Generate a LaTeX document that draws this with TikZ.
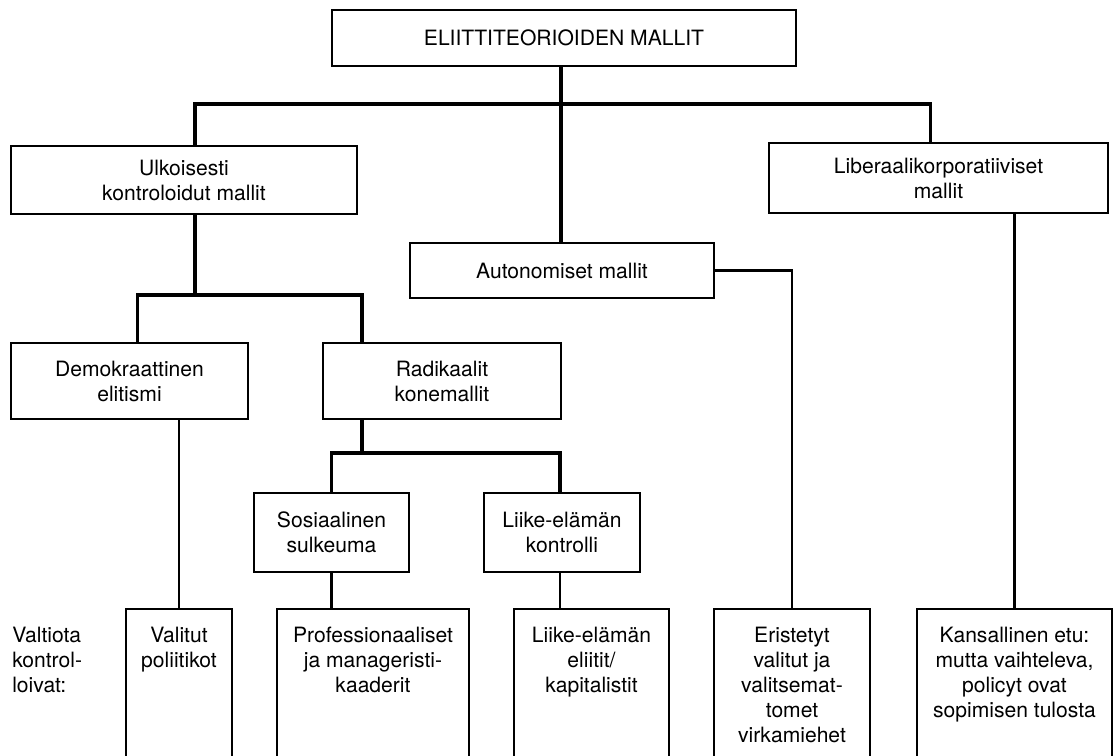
\documentclass[tikz,border=0pt]{standalone}
\usepackage{fontspec}
\setmainfont{TeX Gyre Heros}
\tikzset{modelbox/.style={draw, line width=1.5pt, align=center, inner sep=2pt},
 openbox/.style={anchor=north, align=center, inner xsep=0pt, inner ysep=12.5pt},
 tree/.style={line width=2.2pt},
 link/.style={line width=1.5pt}}

\begin{document}
\begin{tikzpicture}[x=0.025cm, y=-0.025cm, font=\fontsize{15}{17.8}\selectfont]
  \useasboundingbox (0,0) rectangle (1119,756);
  \coordinate (bot) at (0,756);
  % upper levels
  \node[modelbox, minimum width=11.6cm, minimum height=1.4cm] (root) at (564,38) {ELIITTITEORIOIDEN MALLIT};
  \node[modelbox, minimum width=8.65cm, minimum height=1.7cm] (ulk) at (184,180) {Ulkoisesti\\kontroloidut mallit};
  \node[modelbox, minimum width=8.475cm, minimum height=1.75cm] (lib) at (938.5,178) {Liberaalikorporatiiviset\\mallit};
  \node[modelbox, minimum width=7.6cm, minimum height=1.375cm] (aut) at (562,270.5) {Autonomiset mallit};
  \node[modelbox, minimum width=5.925cm, minimum height=1.9cm] (dem) at (129.5,381) {Demokraattinen\\elitismi};
  \node[modelbox, minimum width=5.95cm, minimum height=1.9cm] (rad) at (442,381) {Radikaalit\\konemallit};
  \node[modelbox, minimum width=3.875cm, minimum height=1.975cm] (sos) at (331.5,532.5) {Sosiaalinen\\sulkeuma};
  \node[modelbox, minimum width=3.9cm, minimum height=1.975cm] (lik) at (562,532.5) {Liike-elämän\\kontrolli};
  % bottom row
  \node[anchor=north west, align=left, inner xsep=0pt, inner ysep=12.5pt] (valt) at (12,609) {Valtiota\\kontrol-\\loivat:};
  \node[openbox, minimum width=2.65cm] (val) at (179,609) {Valitut\\poliitikot};
  \node[openbox, minimum width=4.8cm] (pro) at (373,609) {Professionaaliset\\ja manageristi-\\kaaderit};
  \node[openbox, minimum width=3.875cm] (eli) at (591.5,609) {Liike-elämän\\eliitit/\\kapitalistit};
  \node[openbox, minimum width=3.9cm] (eri) at (792,609) {Eristetyt\\valitut ja\\valitsemat-\\tomet\\virkamiehet};
  \node[openbox, minimum width=4.875cm] (kan) at (1014.5,609) {Kansallinen etu:\\mutta vaihteleva,\\policyt ovat\\sopimisen tulosta};
  \foreach \n in {val,pro,eli,eri,kan}
    \draw[link] (\n.north west |- bot) -- (\n.north west) -- (\n.north east) -- (\n.north east |- bot);
  % connectors
  \coordinate (j1) at (561,104);
  \coordinate (j2) at (195,295);
  \coordinate (j3) at (362,453);
  \draw[tree] (root.south -| j1) -- (j1 |- aut.north);
  \draw[tree] ([xshift=0.275cm]ulk.north) |- (j1) -| ([xshift=-0.19cm]lib.north);
  \draw[tree] (ulk.south -| j2) -- (j2);
  \draw[tree] ([xshift=0.19cm]dem.north) |- (j2) -| (rad.north -| j3);
  \draw[tree] (rad.south -| j3) -- (j3);
  \draw[tree] (sos.north) |- (j3) -| ([xshift=-0.05cm]lik.north);
  \draw[link] (val.north) -- (val.north |- dem.south);
  \draw[link] (sos.south) -- (sos.south |- pro.north);
  \draw[link] ([xshift=-0.05cm]lik.south) -- ([xshift=-0.05cm]lik.south |- eli.north);
  \draw[link] (aut.east) -| (eri.north);
  \draw[link] (kan.north) -- (kan.north |- lib.south);
\end{tikzpicture}
\end{document}
